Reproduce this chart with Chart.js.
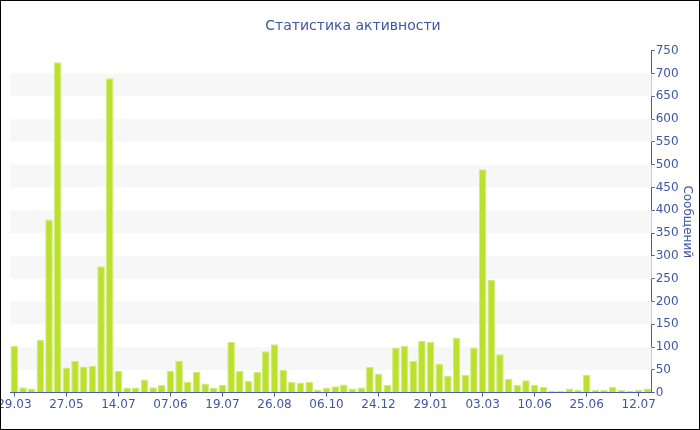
<!DOCTYPE html>
<html>
<head>
<meta charset="utf-8">
<script src="https://cdn.jsdelivr.net/npm/chart.js@4/dist/chart.umd.min.js"></script>
<style>
    html, body { margin: 0; padding: 0; background: #fff; }
    #wrap { width: 698px; height: 428px; border: 1px solid #000; position: relative; }
</style>
</head>
<body>
<div id="wrap"><canvas id="activity-chart" width="698" height="428"></canvas></div>
<script>
// подписи оси X (каждый 6-й столбец)
const tickLabels = ['29.03', '27.05', '14.07', '07.06', '19.07', '26.08', '06.10',
    '24.12', '29.01', '03.03', '10.06', '25.06', '12.07'];
const labelStep = 6;

// количество сообщений по периодам
const messages = [
    103, 12, 9, 116, 380, 725, 55, 70, 57, 59,
    277, 690, 48, 11, 11, 29, 12, 17, 48, 70,
    24, 45, 20, 11, 17, 111, 48, 26, 45, 91,
    106, 50, 23, 22, 24, 7, 11, 14, 18, 9,
    11, 56, 42, 17, 99, 103, 70, 114, 111, 63,
    37, 120, 39, 99, 490, 247, 84, 30, 17, 27,
    17, 13, 4, 4, 9, 6, 39, 6, 6, 13,
    6, 4, 7, 9
];

const yMax = 750;
const yStep = 50;

const categories = messages.map((_, i) => i % labelStep === 0 ? tickLabels[i / labelStep] : '');

const axisColor = '#4a5fa3';
const textColor = '#3f56a1';

// полосы фона через шкалу Y
const bandsPlugin = {
    id: 'bands',
    beforeDatasetsDraw(chart) {
        const { ctx, chartArea, scales } = chart;
        const y = scales.y;
        ctx.save();
        ctx.fillStyle = '#f7f7f7';
        for (let v = yStep; v < yMax; v += 2 * yStep) {
            const top = y.getPixelForValue(v + yStep);
            const bottom = y.getPixelForValue(v);
            ctx.fillRect(chartArea.left, top, chartArea.right - chartArea.left, bottom - top);
        }
        ctx.restore();
    }
};

new Chart(document.getElementById('activity-chart').getContext('2d'), {
    type: 'bar',
    data: {
        labels: categories,
        datasets: [{
            label: 'Сообщений',
            data: messages,
            backgroundColor: '#bce02e',
            borderColor: '#d2ec7c',
            borderWidth: 1,
            barPercentage: 0.88,
            categoryPercentage: 1
        }]
    },
    options: {
        responsive: false,
        animation: false,
        layout: { padding: { left: 9, right: 3, top: 0, bottom: 16 } },
        plugins: {
            legend: { display: false },
            tooltip: { enabled: false },
            title: {
                display: true,
                text: 'Статистика активности',
                color: textColor,
                font: { family: 'DejaVu Sans', size: 14, weight: 'normal' },
                padding: { top: 17, bottom: 16 }
            }
        },
        scales: {
            x: {
                offset: true,
                border: { display: true, color: axisColor, width: 1 },
                grid: {
                    offset: false,
                    drawOnChartArea: false,
                    drawTicks: true,
                    tickLength: 4,
                    color: (c) => c.index % labelStep === 0 ? axisColor : 'rgba(0,0,0,0)'
                },
                ticks: {
                    autoSkip: false,
                    maxRotation: 0,
                    color: textColor,
                    padding: 1,
                    font: { family: 'DejaVu Sans', size: 12 }
                },
                afterFit(scale) {
                    scale.paddingLeft = 0;
                    scale.paddingRight = 0;
                }
            },
            y: {
                position: 'right',
                min: 0,
                max: yMax,
                border: { display: true, color: axisColor, width: 1 },
                grid: {
                    drawOnChartArea: false,
                    drawTicks: true,
                    tickLength: 3,
                    color: axisColor
                },
                ticks: {
                    stepSize: yStep / 2,
                    color: textColor,
                    padding: 1,
                    font: { family: 'DejaVu Sans', size: 12 },
                    callback: (v) => v % yStep === 0 ? v : ''
                },
                title: {
                    display: true,
                    text: 'Сообщений',
                    color: textColor,
                    font: { family: 'DejaVu Sans', size: 12 },
                    padding: { top: 2, bottom: 0 }
                }
            }
        }
    },
    plugins: [bandsPlugin]
});
</script>
</body>
</html>
